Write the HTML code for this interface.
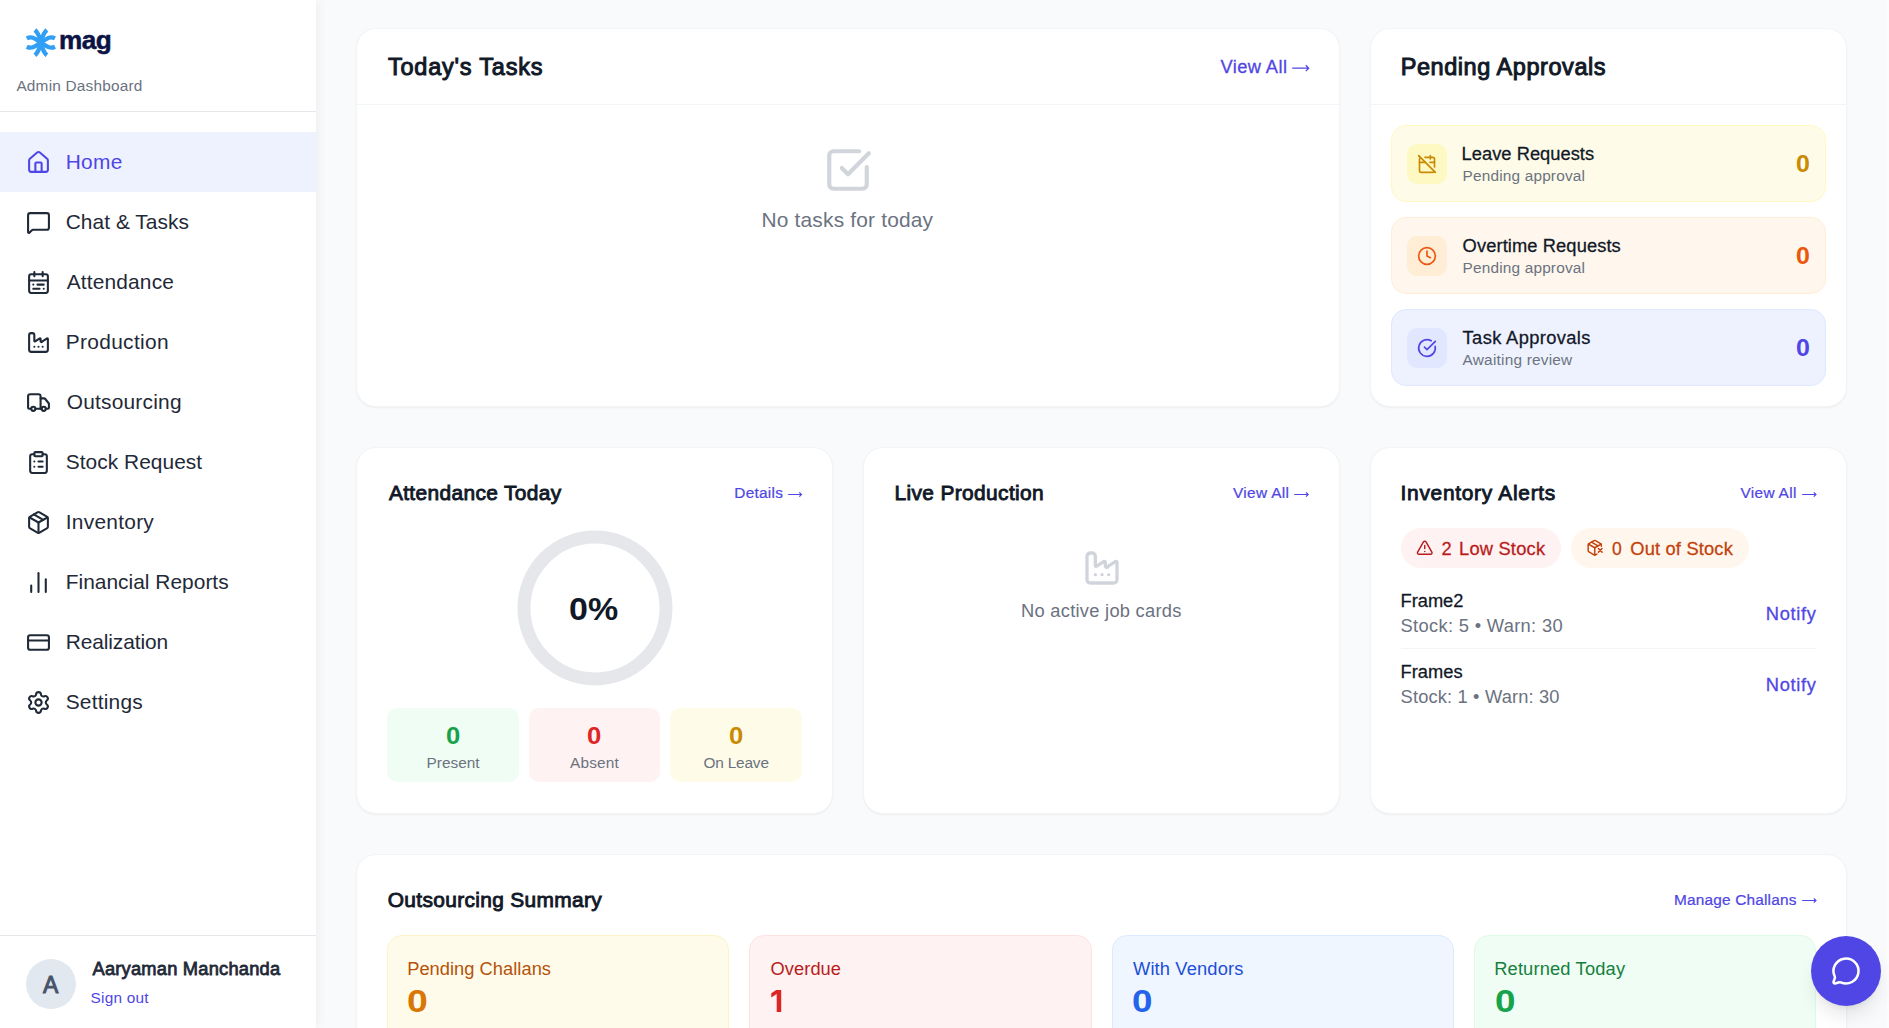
<!DOCTYPE html>
<html><head><meta charset="utf-8"><title>Admin Dashboard</title>
<style>
*{box-sizing:border-box}
html,body{margin:0;padding:0}
body{width:1889px;height:1028px;overflow:hidden;background:#f9fafb;position:relative;font-family:"Liberation Sans",sans-serif;}
.a{position:absolute}
.t{position:absolute;white-space:pre;}
.card{position:absolute;background:#fff;border:1px solid #f3f4f6;border-radius:20px;box-shadow:0 1px 2px rgba(0,0,0,.05)}
svg.i{position:absolute;fill:none;stroke:currentColor;stroke-width:2;stroke-linecap:round;stroke-linejoin:round;overflow:visible}
.box{position:absolute;border:1px solid;border-radius:15px}
</style></head><body>
<!-- right strip -->
<div class="a" style="left:1887px;top:0;width:2px;height:1028px;background:#fcfcfc"></div>

<!-- SIDEBAR -->
<div class="a" id="sb" style="left:0;top:0;width:316px;height:1028px;background:#fff;box-shadow:0 0 12px rgba(0,0,0,.07)"></div>
<div class="a" style="left:0;top:111px;width:316px;height:1px;background:#e5e7eb"></div>
<div class="a" style="left:0;top:132px;width:316px;height:60px;background:#eef2ff"></div>
<div class="a" style="left:0;top:935px;width:316px;height:1px;background:#e5e7eb"></div>
<div class="a" style="left:26px;top:959px;width:50px;height:50px;border-radius:50%;background:#e2e8f0"></div>
<svg class="a" style="left:0;top:0;overflow:visible" width="120" height="70" viewBox="0 0 120 70"><g fill="none" stroke="#309ff5" stroke-width="4.3" stroke-linecap="butt"><path d="M26.8 38.4C32.5 35.6 36 39.5 40.9 42.56S49.3 49.5 55 46.7"/><path d="M26.8 46.7C32.5 49.5 36 45.6 40.9 42.56S49.3 35.6 55 38.4"/><path d="M34.9 29.95C38.6 32.8 39.8 37.5 40.9 42.56S43.2 52.3 46.9 55.2"/><path d="M46.9 29.95C43.2 32.8 42 37.5 40.9 42.56S38.6 52.3 34.9 55.2"/></g></svg>
<svg class="i" style="left:26px;top:149.5px;color:#4f46e5;stroke-width:2" width="25" height="25" viewBox="0 0 24 24"><path d="M15 21v-8a1 1 0 0 0-1-1h-4a1 1 0 0 0-1 1v8"/><path d="M3 10a2 2 0 0 1 .709-1.528l7-5.999a2 2 0 0 1 2.582 0l7 5.999A2 2 0 0 1 21 10v9a2 2 0 0 1-2 2H5a2 2 0 0 1-2-2z"/></svg>
<svg class="i" style="left:26px;top:209.5px;color:#1f2937;stroke-width:2" width="25" height="25" viewBox="0 0 24 24"><path d="M22 17a2 2 0 0 1-2 2H6.828a2 2 0 0 0-1.414.586l-2.202 2.202A.71.71 0 0 1 2 21.286V5a2 2 0 0 1 2-2h16a2 2 0 0 1 2 2z"/></svg>
<svg class="i" style="left:26px;top:269.5px;color:#1f2937;stroke-width:2" width="25" height="25" viewBox="0 0 24 24"><rect width="18" height="18" x="3" y="4" rx="2"/><path d="M16 2v4"/><path d="M3 10h18"/><path d="M8 2v4"/><path d="M17 14h-6"/><path d="M13 18H7"/><path d="M7 14h.01"/><path d="M17 18h.01"/></svg>
<svg class="i" style="left:26px;top:329.5px;color:#1f2937;stroke-width:2" width="25" height="25" viewBox="0 0 24 24"><path d="M12 16h.01"/><path d="M16 16h.01"/><path d="M3 19a2 2 0 0 0 2 2h14a2 2 0 0 0 2-2V8.5a.5.5 0 0 0-.769-.422l-4.462 2.844A.5.5 0 0 1 14 10.5v-2a.5.5 0 0 0-.769-.422L8.77 10.922A.5.5 0 0 1 8 10.5V5a2 2 0 0 0-2-2H5a2 2 0 0 0-2 2z"/><path d="M8 16h.01"/></svg>
<svg class="i" style="left:26px;top:389.5px;color:#1f2937;stroke-width:2" width="25" height="25" viewBox="0 0 24 24"><path d="M14 18V6a2 2 0 0 0-2-2H4a2 2 0 0 0-2 2v11a1 1 0 0 0 1 1h2"/><path d="M15 18H9"/><path d="M19 18h2a1 1 0 0 0 1-1v-3.65a1 1 0 0 0-.22-.624l-3.48-4.35A1 1 0 0 0 17.52 8H14"/><circle cx="17" cy="18" r="2"/><circle cx="7" cy="18" r="2"/></svg>
<svg class="i" style="left:26px;top:449.5px;color:#1f2937;stroke-width:2" width="25" height="25" viewBox="0 0 24 24"><rect width="8" height="4" x="8" y="2" rx="1" ry="1"/><path d="M16 4h2a2 2 0 0 1 2 2v14a2 2 0 0 1-2 2H6a2 2 0 0 1-2-2V6a2 2 0 0 1 2-2h2"/><path d="M12 11h4"/><path d="M12 16h4"/><path d="M8 11h.01"/><path d="M8 16h.01"/></svg>
<svg class="i" style="left:26px;top:509.5px;color:#1f2937;stroke-width:2" width="25" height="25" viewBox="0 0 24 24"><path d="M11 21.73a2 2 0 0 0 2 0l7-4A2 2 0 0 0 21 16V8a2 2 0 0 0-1-1.73l-7-4a2 2 0 0 0-2 0l-7 4A2 2 0 0 0 3 8v8a2 2 0 0 0 1 1.73z"/><path d="M12 22V12"/><polyline points="3.29 7 12 12 20.71 7"/><path d="m7.5 4.27 9 5.15"/></svg>
<svg class="i" style="left:26px;top:569.5px;color:#1f2937;stroke-width:2" width="25" height="25" viewBox="0 0 24 24"><path d="M5 21v-6"/><path d="M12 21V3"/><path d="M19 21V9"/></svg>
<svg class="i" style="left:26px;top:629.5px;color:#1f2937;stroke-width:2" width="25" height="25" viewBox="0 0 24 24"><rect width="20" height="14" x="2" y="5" rx="2"/><line x1="2" x2="22" y1="10" y2="10"/></svg>
<svg class="i" style="left:26px;top:689.5px;color:#1f2937;stroke-width:2" width="25" height="25" viewBox="0 0 24 24"><path d="M9.671 4.136a2.34 2.34 0 0 1 4.659 0 2.34 2.34 0 0 0 3.319 1.915 2.34 2.34 0 0 1 2.33 4.033 2.34 2.34 0 0 0 0 3.831 2.34 2.34 0 0 1-2.33 4.033 2.34 2.34 0 0 0-3.319 1.915 2.34 2.34 0 0 1-4.659 0 2.34 2.34 0 0 0-3.32-1.915 2.34 2.34 0 0 1-2.33-4.033 2.34 2.34 0 0 0 0-3.831A2.34 2.34 0 0 1 6.35 6.051a2.34 2.34 0 0 0 3.319-1.915"/><circle cx="12" cy="12" r="3"/></svg>

<!-- CARDS -->
<div class="card" style="left:356px;top:28px;width:984px;height:379px"></div>
<div class="a" style="left:357px;top:104px;width:982px;height:1px;background:#f3f4f6"></div>
<div class="card" style="left:1370px;top:28px;width:477px;height:379px"></div>
<div class="a" style="left:1371px;top:104px;width:475px;height:1px;background:#f3f4f6"></div>

<div class="card" style="left:356px;top:447px;width:477px;height:367px"></div>
<div class="card" style="left:863px;top:447px;width:477px;height:367px"></div>
<div class="card" style="left:1370px;top:447px;width:477px;height:367px"></div>
<div class="card" style="left:356px;top:854px;width:1491px;height:300px"></div>

<svg class="i" style="left:823px;top:145px;color:#d1d5db;stroke-width:2" width="50" height="50" viewBox="0 0 24 24"><path d="M21 10.656V19a2 2 0 0 1-2 2H5a2 2 0 0 1-2-2V5a2 2 0 0 1 2-2h12.344"/><path d="m9 11 3 3L22 4"/></svg>
<svg class="a" style="left:1290px;top:63.2px;overflow:visible" width="21.200000000000045" height="10.4" viewBox="-2 -5.2 21.200000000000045 10.4"><path d="M0.2 0H16.800000000000047M13.800000000000047 -2.9000000000000004L16.700000000000045 0L13.800000000000047 2.9000000000000004" fill="none" stroke="#4f46e5" stroke-width="1.3" stroke-linecap="butt" stroke-linejoin="miter"/></svg>
<svg class="a" style="left:786.1px;top:489.8px;overflow:visible" width="18.0" height="9.0" viewBox="-2 -4.5 18.0 9.0"><path d="M0.2 0H13.6M11.3 -2.2L13.5 0L11.3 2.2" fill="none" stroke="#4f46e5" stroke-width="1.15" stroke-linecap="butt" stroke-linejoin="miter"/></svg>
<svg class="a" style="left:1292.2px;top:489.8px;overflow:visible" width="18.700000000000045" height="9.0" viewBox="-2 -4.5 18.700000000000045 9.0"><path d="M0.2 0H14.300000000000045M12.000000000000046 -2.2L14.200000000000045 0L12.000000000000046 2.2" fill="none" stroke="#4f46e5" stroke-width="1.15" stroke-linecap="butt" stroke-linejoin="miter"/></svg>
<svg class="a" style="left:1799.7px;top:489.8px;overflow:visible" width="18.5" height="9.0" viewBox="-2 -4.5 18.5 9.0"><path d="M0.2 0H14.1M11.8 -2.2L14.0 0L11.8 2.2" fill="none" stroke="#4f46e5" stroke-width="1.15" stroke-linecap="butt" stroke-linejoin="miter"/></svg>
<svg class="a" style="left:1799.7px;top:896.4px;overflow:visible" width="18.5" height="9.0" viewBox="-2 -4.5 18.5 9.0"><path d="M0.2 0H14.1M11.8 -2.2L14.0 0L11.8 2.2" fill="none" stroke="#4f46e5" stroke-width="1.15" stroke-linecap="butt" stroke-linejoin="miter"/></svg>
<div class="box" style="left:1391px;top:125px;width:435px;height:77px;background:#fefce8;border-color:#fef9c3;border-radius:15px"></div>
<div class="a" style="left:1407px;top:144px;width:40px;height:40px;background:#fef9c3;border-radius:10px"></div>
<svg class="i" style="left:1417px;top:154px;color:#ca8a04;stroke-width:2" width="20" height="20" viewBox="0 0 24 24"><path d="M4.2 4.2A2 2 0 0 0 3 6v14a2 2 0 0 0 2 2h14a2 2 0 0 0 1.82-1.18"/><path d="M21 15.5V6a2 2 0 0 0-2-2H9.5"/><path d="M16 2v4"/><path d="M3 10h7"/><path d="M21 10h-5.5"/><path d="m2 2 20 20"/></svg>
<div class="box" style="left:1391px;top:217px;width:435px;height:77px;background:#fff7ed;border-color:#ffedd5;border-radius:15px"></div>
<div class="a" style="left:1407px;top:236px;width:40px;height:40px;background:#ffedd5;border-radius:10px"></div>
<svg class="i" style="left:1417px;top:246px;color:#ea580c;stroke-width:2" width="20" height="20" viewBox="0 0 24 24"><circle cx="12" cy="12" r="10"/><polyline points="12 6 12 12 16 14"/></svg>
<div class="box" style="left:1391px;top:309px;width:435px;height:77px;background:#eef2ff;border-color:#e0e7ff;border-radius:15px"></div>
<div class="a" style="left:1407px;top:328px;width:40px;height:40px;background:#e0e7ff;border-radius:10px"></div>
<svg class="i" style="left:1417px;top:338px;color:#4f46e5;stroke-width:2" width="20" height="20" viewBox="0 0 24 24"><path d="M21.801 10A10 10 0 1 1 17 3.335"/><path d="m9 11 3 3L22 4"/></svg>
<svg class="a" style="left:514.5px;top:528px" width="160" height="160" viewBox="0 0 160 160"><circle cx="80" cy="80" r="71" fill="none" stroke="#e5e7eb" stroke-width="13"/></svg>
<div class="a" style="left:387px;top:708px;width:132px;height:74px;background:#f0fdf4;border-radius:10px"></div>
<div class="a" style="left:529px;top:708px;width:131px;height:74px;background:#fef2f2;border-radius:10px"></div>
<div class="a" style="left:670px;top:708px;width:132px;height:74px;background:#fefce8;border-radius:10px"></div>
<svg class="i" style="left:1081.5px;top:548px;color:#d1d5db;stroke-width:2" width="40" height="40" viewBox="0 0 24 24"><path d="M12 16h.01"/><path d="M16 16h.01"/><path d="M3 19a2 2 0 0 0 2 2h14a2 2 0 0 0 2-2V8.5a.5.5 0 0 0-.769-.422l-4.462 2.844A.5.5 0 0 1 14 10.5v-2a.5.5 0 0 0-.769-.422L8.77 10.922A.5.5 0 0 1 8 10.5V5a2 2 0 0 0-2-2H5a2 2 0 0 0-2 2z"/><path d="M8 16h.01"/></svg>
<div class="a" style="left:1401px;top:528px;width:160px;height:40px;background:#fef2f2;border-radius:20px"></div>
<div class="a" style="left:1571px;top:528px;width:177.5px;height:40px;background:#fff7ed;border-radius:20px"></div>
<svg class="i" style="left:1416px;top:539.25px;color:#b91c1c;stroke-width:2" width="17.5" height="17.5" viewBox="0 0 24 24"><path d="m21.73 18-8-14a2 2 0 0 0-3.48 0l-8 14A2 2 0 0 0 4 21h16a2 2 0 0 0 1.73-3"/><path d="M12 9v4"/><path d="M12 17h.01"/></svg>
<svg class="i" style="left:1585.7px;top:539.25px;color:#c2410c;stroke-width:2" width="17.5" height="17.5" viewBox="0 0 24 24"><path d="M21 10V8a2 2 0 0 0-1-1.73l-7-4a2 2 0 0 0-2 0l-7 4A2 2 0 0 0 3 8v8a2 2 0 0 0 1 1.73l7 4a2 2 0 0 0 2 0l2-1.14"/><path d="m7.5 4.27 9 5.15"/><polyline points="3.29 7 12 12 20.71 7"/><line x1="12" x2="12" y1="22" y2="12"/><path d="m17 13 5 5m-5 0 5-5"/></svg>
<div class="a" style="left:1401px;top:648px;width:415px;height:1px;background:#f3f4f6;border-radius:0px"></div>
<div class="box" style="left:387px;top:935px;width:342px;height:120px;background:#fffbeb;border-color:#fef3c7;border-radius:15px"></div>
<div class="box" style="left:749px;top:935px;width:343px;height:120px;background:#fef2f2;border-color:#fee2e2;border-radius:15px"></div>
<div class="box" style="left:1112px;top:935px;width:342px;height:120px;background:#eff6ff;border-color:#dbeafe;border-radius:15px"></div>
<div class="box" style="left:1474px;top:935px;width:342px;height:120px;background:#f0fdf4;border-color:#dcfce7;border-radius:15px"></div>
<svg class="a" style="left:760px;top:980px" width="40" height="40" viewBox="760 980 40 40"><polygon points="776.2,990 781.2,990 781.2,1012 776.7,1012 776.7,993.9 771.3,997.4 771.3,993.2" fill="#dc2626"/></svg>
<span class="t" style="left:59.00px;top:25px;font-size:26.2px;line-height:30px;color:#0b1445;font-weight:700;-webkit-text-stroke:0.5px #0b1445;letter-spacing:-0.600px;">mag</span>
<span class="t" style="left:16.40px;top:77px;font-size:15.4px;line-height:17px;color:#6b7280;letter-spacing:0.200px;">Admin Dashboard</span>
<span class="t" style="left:65.70px;top:150px;font-size:20.9px;line-height:23px;color:#4f46e5;letter-spacing:0.300px;">Home</span>
<span class="t" style="left:65.70px;top:210px;font-size:20.9px;line-height:23px;color:#1f2937;letter-spacing:0.055px;">Chat &amp; Tasks</span>
<span class="t" style="left:66.70px;top:270px;font-size:20.9px;line-height:23px;color:#1f2937;letter-spacing:0.167px;">Attendance</span>
<span class="t" style="left:65.70px;top:330px;font-size:20.9px;line-height:23px;color:#1f2937;letter-spacing:0.333px;">Production</span>
<span class="t" style="left:66.70px;top:390px;font-size:20.9px;line-height:23px;color:#1f2937;letter-spacing:0.220px;">Outsourcing</span>
<span class="t" style="left:65.70px;top:450px;font-size:20.9px;line-height:23px;color:#1f2937;letter-spacing:0.050px;">Stock Request</span>
<span class="t" style="left:65.70px;top:510px;font-size:20.9px;line-height:23px;color:#1f2937;letter-spacing:0.275px;">Inventory</span>
<span class="t" style="left:65.70px;top:570px;font-size:20.9px;line-height:23px;color:#1f2937;letter-spacing:0.025px;">Financial Reports</span>
<span class="t" style="left:65.70px;top:630px;font-size:20.9px;line-height:23px;color:#1f2937;letter-spacing:-0.090px;">Realization</span>
<span class="t" style="left:65.70px;top:690px;font-size:20.9px;line-height:23px;color:#1f2937;letter-spacing:0.214px;">Settings</span>
<span class="t" style="left:42.98px;top:972px;font-size:23.51px;line-height:26px;color:#475569;-webkit-text-stroke:0.99px #475569;transform:scaleX(0.978);transform-origin:0 0;">A</span>
<span class="t" style="left:92.50px;top:958px;font-size:18.29px;line-height:21px;color:#1f2937;-webkit-text-stroke:0.77px #1f2937;letter-spacing:0.218px;">Aaryaman Manchanda</span>
<span class="t" style="left:90.50px;top:989px;font-size:15.4px;line-height:17px;color:#4f46e5;letter-spacing:0.229px;">Sign out</span>
<span class="t" style="left:387.90px;top:54px;font-size:23.51px;line-height:26px;color:#111827;-webkit-text-stroke:0.99px #111827;letter-spacing:0.792px;">Today's Tasks</span>
<span class="t" style="left:1220.50px;top:56px;font-size:18.29px;line-height:21px;color:#4f46e5;-webkit-text-stroke:0.27px #4f46e5;letter-spacing:0.400px;">View All</span>
<span class="t" style="left:761.50px;top:208px;font-size:20.9px;line-height:23px;color:#6b7280;letter-spacing:0.188px;">No tasks for today</span>
<span class="t" style="left:1400.70px;top:54px;font-size:23.51px;line-height:26px;color:#111827;-webkit-text-stroke:0.99px #111827;letter-spacing:0.556px;">Pending Approvals</span>
<span class="t" style="left:1461.60px;top:143px;font-size:18.29px;line-height:21px;color:#111827;-webkit-text-stroke:0.27px #111827;letter-spacing:0.031px;">Leave Requests</span>
<span class="t" style="left:1462.60px;top:167px;font-size:15.4px;line-height:17px;color:#6b7280;letter-spacing:0.167px;">Pending approval</span>
<span class="t" style="left:1462.60px;top:235px;font-size:18.29px;line-height:21px;color:#111827;-webkit-text-stroke:0.27px #111827;letter-spacing:0.106px;">Overtime Requests</span>
<span class="t" style="left:1462.60px;top:259px;font-size:15.4px;line-height:17px;color:#6b7280;letter-spacing:0.167px;">Pending approval</span>
<span class="t" style="left:1462.60px;top:327px;font-size:18.29px;line-height:21px;color:#111827;-webkit-text-stroke:0.27px #111827;letter-spacing:0.369px;">Task Approvals</span>
<span class="t" style="left:1462.60px;top:351px;font-size:15.4px;line-height:17px;color:#6b7280;letter-spacing:0.214px;">Awaiting review</span>
<span class="t" style="left:1795.50px;top:151px;font-size:23.51px;line-height:26px;color:#ca8a04;font-weight:700;transform:scaleX(1.062);transform-origin:0 0;">0</span>
<span class="t" style="left:1795.50px;top:243px;font-size:23.51px;line-height:26px;color:#ea580c;font-weight:700;transform:scaleX(1.062);transform-origin:0 0;">0</span>
<span class="t" style="left:1795.50px;top:335px;font-size:23.51px;line-height:26px;color:#4f46e5;font-weight:700;transform:scaleX(1.062);transform-origin:0 0;">0</span>
<span class="t" style="left:388.90px;top:481px;font-size:20.9px;line-height:23px;color:#111827;-webkit-text-stroke:0.88px #111827;letter-spacing:0.360px;">Attendance Today</span>
<span class="t" style="left:734.30px;top:484px;font-size:15.4px;line-height:17px;color:#4f46e5;-webkit-text-stroke:0.23px #4f46e5;letter-spacing:0.250px;">Details</span>
<span class="t" style="left:569.12px;top:592px;font-size:31.35px;line-height:35px;color:#111827;font-weight:700;transform:scaleX(1.084);transform-origin:0 0;">0%</span>
<span class="t" style="left:445.80px;top:723px;font-size:23.51px;line-height:26px;color:#16a34a;font-weight:700;transform:scaleX(1.092);transform-origin:0 0;">0</span>
<span class="t" style="left:587.40px;top:723px;font-size:23.51px;line-height:26px;color:#dc2626;font-weight:700;transform:scaleX(1.092);transform-origin:0 0;">0</span>
<span class="t" style="left:728.90px;top:723px;font-size:23.51px;line-height:26px;color:#ca8a04;font-weight:700;transform:scaleX(1.092);transform-origin:0 0;">0</span>
<span class="t" style="left:426.50px;top:754px;font-size:15.4px;line-height:17px;color:#6b7280;letter-spacing:0.017px;">Present</span>
<span class="t" style="left:570.10px;top:754px;font-size:15.4px;line-height:17px;color:#6b7280;letter-spacing:0.160px;">Absent</span>
<span class="t" style="left:703.50px;top:754px;font-size:15.4px;line-height:17px;color:#6b7280;letter-spacing:-0.186px;">On Leave</span>
<span class="t" style="left:894.50px;top:481px;font-size:20.9px;line-height:23px;color:#111827;-webkit-text-stroke:0.88px #111827;letter-spacing:0.371px;">Live Production</span>
<span class="t" style="left:1233.00px;top:484px;font-size:15.4px;line-height:17px;color:#4f46e5;-webkit-text-stroke:0.23px #4f46e5;letter-spacing:0.329px;">View All</span>
<span class="t" style="left:1021.10px;top:600px;font-size:18.29px;line-height:21px;color:#6b7280;letter-spacing:0.267px;">No active job cards</span>
<span class="t" style="left:1400.60px;top:481px;font-size:20.9px;line-height:23px;color:#111827;-webkit-text-stroke:0.88px #111827;letter-spacing:0.713px;">Inventory Alerts</span>
<span class="t" style="left:1740.40px;top:484px;font-size:15.4px;line-height:17px;color:#4f46e5;-webkit-text-stroke:0.23px #4f46e5;letter-spacing:0.343px;">View All</span>
<span class="t" style="left:1441.50px;top:538px;font-size:18.29px;line-height:21px;color:#b91c1c;-webkit-text-stroke:0.27px #b91c1c;transform:scaleX(1.000);transform-origin:0 0;">2</span>
<span class="t" style="left:1459.00px;top:538px;font-size:18.29px;line-height:21px;color:#b91c1c;-webkit-text-stroke:0.27px #b91c1c;letter-spacing:0.213px;">Low Stock</span>
<span class="t" style="left:1611.80px;top:538px;font-size:18.29px;line-height:21px;color:#c2410c;-webkit-text-stroke:0.27px #c2410c;transform:scaleX(0.960);transform-origin:0 0;">0</span>
<span class="t" style="left:1630.30px;top:538px;font-size:18.29px;line-height:21px;color:#c2410c;-webkit-text-stroke:0.27px #c2410c;letter-spacing:0.173px;">Out of Stock</span>
<span class="t" style="left:1400.60px;top:590px;font-size:18.29px;line-height:21px;color:#111827;-webkit-text-stroke:0.27px #111827;letter-spacing:-0.040px;">Frame2</span>
<span class="t" style="left:1400.60px;top:615px;font-size:18.29px;line-height:21px;color:#6b7280;letter-spacing:0.328px;">Stock: 5 • Warn: 30</span>
<span class="t" style="left:1765.80px;top:603px;font-size:18.29px;line-height:21px;color:#4f46e5;-webkit-text-stroke:0.27px #4f46e5;letter-spacing:0.660px;">Notify</span>
<span class="t" style="left:1400.60px;top:661px;font-size:18.29px;line-height:21px;color:#111827;-webkit-text-stroke:0.27px #111827;letter-spacing:0.000px;">Frames</span>
<span class="t" style="left:1400.60px;top:686px;font-size:18.29px;line-height:21px;color:#6b7280;letter-spacing:0.156px;">Stock: 1 • Warn: 30</span>
<span class="t" style="left:1765.80px;top:674px;font-size:18.29px;line-height:21px;color:#4f46e5;-webkit-text-stroke:0.27px #4f46e5;letter-spacing:0.660px;">Notify</span>
<span class="t" style="left:387.70px;top:888px;font-size:20.9px;line-height:23px;color:#111827;-webkit-text-stroke:0.88px #111827;letter-spacing:0.350px;">Outsourcing Summary</span>
<span class="t" style="left:1673.90px;top:891px;font-size:15.4px;line-height:17px;color:#4f46e5;-webkit-text-stroke:0.23px #4f46e5;letter-spacing:0.193px;">Manage Challans</span>
<span class="t" style="left:407.20px;top:958px;font-size:18.29px;line-height:21px;color:#b45309;letter-spacing:0.033px;">Pending Challans</span>
<span class="t" style="left:770.50px;top:958px;font-size:18.29px;line-height:21px;color:#b91c1c;letter-spacing:0.067px;">Overdue</span>
<span class="t" style="left:1133.00px;top:958px;font-size:18.29px;line-height:21px;color:#1d4ed8;letter-spacing:0.145px;">With Vendors</span>
<span class="t" style="left:1494.20px;top:958px;font-size:18.29px;line-height:21px;color:#15803d;letter-spacing:0.162px;">Returned Today</span>
<span class="t" style="left:407.01px;top:984px;font-size:31.35px;line-height:35px;color:#d97706;font-weight:700;transform:scaleX(1.194);transform-origin:0 0;">0</span>
<span class="t" style="left:1132.12px;top:984px;font-size:31.35px;line-height:35px;color:#2563eb;font-weight:700;transform:scaleX(1.175);transform-origin:0 0;">0</span>
<span class="t" style="left:1494.53px;top:984px;font-size:31.35px;line-height:35px;color:#16a34a;font-weight:700;transform:scaleX(1.175);transform-origin:0 0;">0</span>
<div class="a" style="left:1811px;top:936px;width:70px;height:70px;border-radius:50%;background:#4f46e5;box-shadow:0 12.5px 18.75px -3.75px rgba(0,0,0,.1),0 5px 7.5px -5px rgba(0,0,0,.1)"></div><svg class="i" style="left:1831px;top:956.3px;color:#fff;stroke-width:2" width="30" height="30" viewBox="0 0 24 24"><path d="M2.992 16.342a2 2 0 0 1 .094 1.167l-1.065 3.29a1 1 0 0 0 1.236 1.168l3.413-.998a2 2 0 0 1 1.099.092 10 10 0 1 0-4.777-4.719"/></svg>
</body></html>
